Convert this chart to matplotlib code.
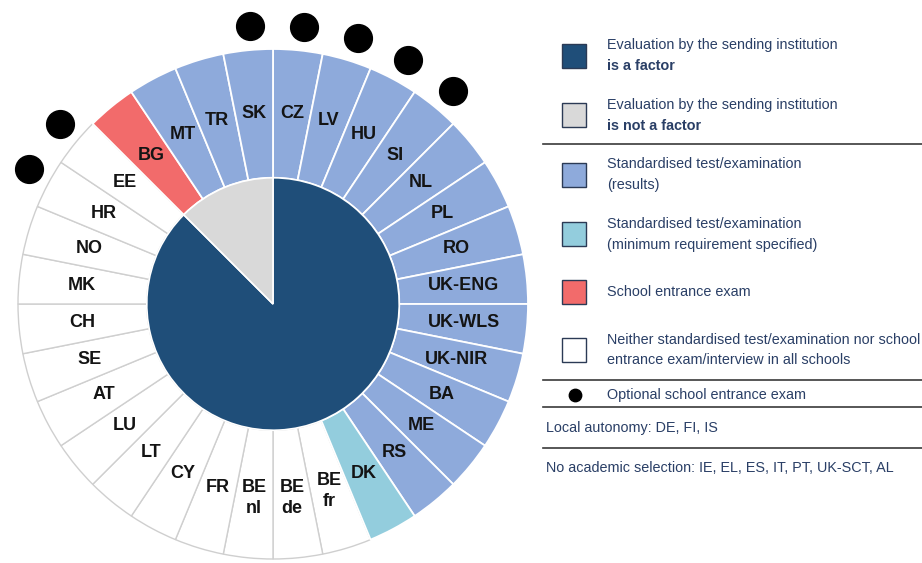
import numpy as np
import matplotlib.pyplot as plt
from matplotlib.patches import Rectangle

plt.rcParams['font.family'] = ['Liberation Sans', 'DejaVu Sans']

# Countries round the ring, clockwise from 12 o'clock.
countries = ['CZ', 'LV', 'HU', 'SI', 'NL', 'PL', 'RO', 'UK-ENG', 'UK-WLS',
             'UK-NIR', 'BA', 'ME', 'RS', 'DK', 'BE\nfr', 'BE\nde', 'BE\nnl',
             'FR', 'CY', 'LT', 'LU', 'AT', 'SE', 'CH', 'MK', 'NO', 'HR', 'EE',
             'BG', 'MT', 'TR', 'SK']
# Selection criterion per country.
category = (['std'] * 13 + ['min'] + ['none'] * 14 + ['exam'] +
            ['std'] * 3)
# Countries with an optional school entrance exam.
optional_exam = ['SK', 'CZ', 'LV', 'HU', 'SI', 'EE', 'HR']
# Inner pie: evaluation by sending institution is / is not a factor.
eval_labels = ['is a factor', 'is not a factor']
eval_counts = [28, 4]

dark = '#1f4e79'
grey = '#d9d9d9'
catColor = {'std': '#8eaadb', 'min': '#93cddd', 'exam': '#f26b6b',
            'none': 'white'}
txtColor = '#2a3f66'
legSize = 10.4

fig = plt.figure(figsize=(9.22, 5.63), dpi=100)

# Pie axes, scaled so one data unit = 255 px, centre at (273, 304) px.
R = 255.
ax = fig.add_axes([0, 0, 546 / 922, 1])
n = len(countries)
wedges, _ = ax.pie([1] * n, radius=1.0,
                   colors=[catColor[c] for c in category],
                   startangle=90, counterclock=False,
                   wedgeprops=dict(width=0.505, linewidth=1.3,
                                   edgecolor='white'))
for w, c in zip(wedges, category):
    if c == 'none':
        w.set_edgecolor('#cfcfcf')
        w.set_linewidth(1.0)
        w.set_zorder(0.5)

ax.pie(eval_counts, radius=0.495, colors=[dark, grey],
       startangle=90, counterclock=False,
       wedgeprops=dict(linewidth=1.2, edgecolor='white'))

step = 360. / n
for i, lab in enumerate(countries):
    ang = np.deg2rad(90 - (i + 0.5) * step)
    r = 0.765 if '\n' in lab else 0.752
    ax.text(r * np.cos(ang), r * np.sin(ang), lab, ha='center',
            va='center', fontsize=13, fontweight='bold', color='#141414',
            linespacing=1.3)

# Optional school entrance exam dots.
idx = [countries.index(c) for c in optional_exam]
dAng = np.deg2rad([90 - (i + 0.5) * step - 0.8 for i in idx])
ax.scatter(1.095 * np.cos(dAng), 1.095 * np.sin(dAng), s=400,
           color='black', clip_on=False, zorder=5)

ax.set_aspect('auto')
ax.set_xlim(-273 / R, 273 / R)
ax.set_ylim(-(563 - 304) / R, 304 / R)
ax.axis('off')

# Legend drawn in pixel coordinates.
lg = fig.add_axes([0, 0, 1, 1])
lg.set_xlim(0, 922)
lg.set_ylim(563, 0)
lg.axis('off')

legItems = [
    (56, ['Evaluation by the sending institution', 'is a factor'], dark, True),
    (115, ['Evaluation by the sending institution', 'is not a factor'], grey,
     True),
    (175, ['Standardised test/examination', '(results)'], catColor['std'],
     False),
    (234, ['Standardised test/examination',
           '(minimum requirement specified)'], catColor['min'], False),
    (292, ['School entrance exam'], catColor['exam'], False),
    (350, ['Neither standardised test/examination nor school',
           'entrance exam/interview in all schools'], 'white', False),
]
for y, lines, col, bold2 in legItems:
    lg.add_patch(Rectangle((561.5, y - 12), 24, 24, facecolor=col,
                           edgecolor='#2b3a55', linewidth=1.0))
    if len(lines) == 1:
        lg.text(607, y, lines[0], fontsize=legSize, color=txtColor,
                va='center', ha='left')
    else:
        lg.text(607, y - 10.5, lines[0], fontsize=legSize, color=txtColor,
                va='center', ha='left')
        lg.text(607, y + 10.5, lines[1], fontsize=legSize, color=txtColor,
                va='center', ha='left',
                fontweight='bold' if bold2 else 'normal')

lg.scatter([575], [395], s=80, color='black')
lg.text(607, 395, 'Optional school entrance exam', fontsize=legSize,
        color=txtColor, va='center', ha='left')
lg.text(546, 428, 'Local autonomy: DE, FI, IS', fontsize=legSize,
        color=txtColor, va='center', ha='left')
lg.text(546, 468, 'No academic selection: IE, EL, ES, IT, PT, UK-SCT, AL',
        fontsize=legSize, color=txtColor, va='center', ha='left')

for y in [144, 380, 407, 448]:
    lg.plot([543, 922], [y, y], color='#3a3a3a', linewidth=1.2)

fig.savefig('out.png', dpi=100)
